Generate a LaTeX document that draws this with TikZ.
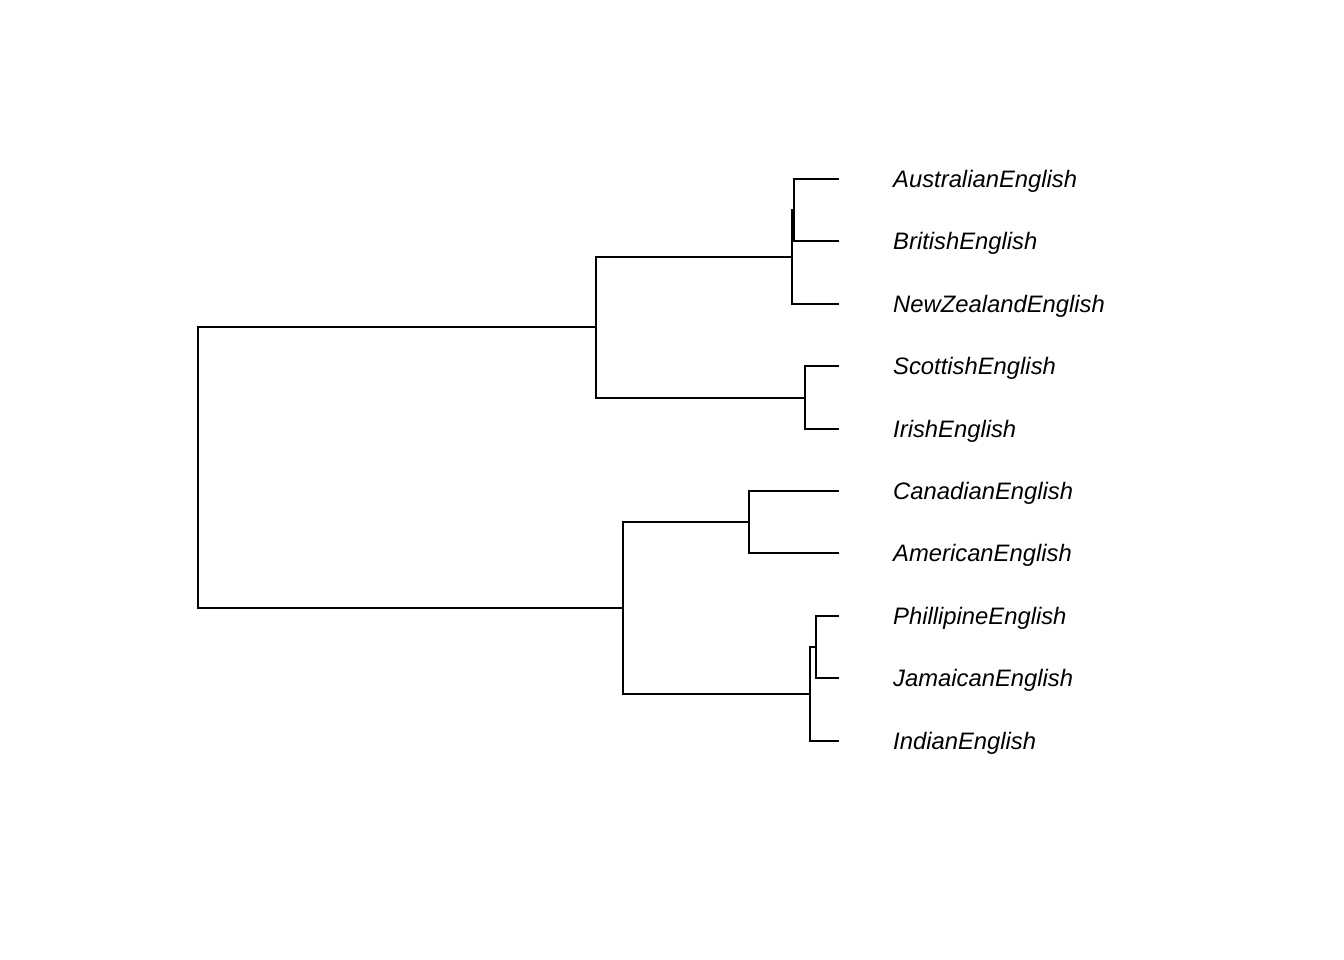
\documentclass[tikz,border=0pt]{standalone}
\usepackage{fontspec}
\setmainfont{Liberation Sans}
\begin{document}
\begin{tikzpicture}[x=1pt,y=-1pt,
  br/.style={line width=1.8pt,line cap=rect},
  lab/.style={anchor=mid west,inner sep=0pt,yshift=-6pt,font=\fontsize{23.8}{28}\selectfont\itshape}]
\useasboundingbox (0,0) rectangle (1344,960);
% leaves
\foreach \n/\y/\t in {au/179/AustralianEnglish, br/241/BritishEnglish, nz/304/NewZealandEnglish,
  sc/366/ScottishEnglish, ir/429/IrishEnglish, ca/491/CanadianEnglish, am/553/AmericanEnglish,
  ph/616/PhillipineEnglish, ja/678/JamaicanEnglish, in/741/IndianEnglish}{
  \coordinate (\n) at (838,\y);
  \node[lab] (l\n) at (893,\y) {\t};
}
% internal joints
\coordinate (j1) at (794,210);
\coordinate (j2) at (792,257);
\coordinate (j3) at (805,398);
\coordinate (j4) at (596,327);
\coordinate (j5) at (749,522);
\coordinate (j6) at (816,647);
\coordinate (j7) at (810,694);
\coordinate (j8) at (623,608);
\coordinate (r) at (198,468);
% branches
\draw[br] (au) -| (j1) |- (br);
\draw[br] (j1) -| (j2) |- (nz);
\draw[br] (sc) -| (j3) |- (ir);
\draw[br] (j2) -| (j4) |- (j3);
\draw[br] (ca) -| (j5) |- (am);
\draw[br] (ph) -| (j6) |- (ja);
\draw[br] (j6) -| (j7) |- (in);
\draw[br] (j5) -| (j8) |- (j7);
\draw[br] (j4) -| (r) |- (j8);
\end{tikzpicture}
\end{document}
